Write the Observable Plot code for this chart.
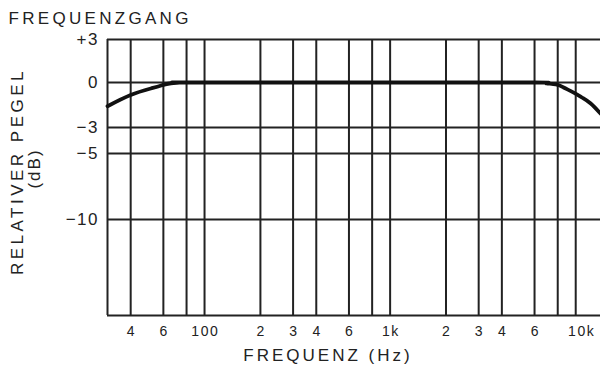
<!DOCTYPE html>
<html>
<head>
<meta charset="utf-8">
<script src="https://cdn.jsdelivr.net/npm/d3@7"></script>
<script src="https://cdn.jsdelivr.net/npm/@observablehq/plot@0.6"></script>
<style>
  html, body { margin: 0; padding: 0; background: #fff; }
  #chart svg { display: block; }
</style>
</head>
<body>
<div id="chart"></div>
<script>
// Grid / tick frequencies (Hz) and their printed labels
const gridFreqs = [40, 60, 80, 100, 200, 300, 400, 600, 800, 1000, 2000, 3000, 4000, 6000, 8000, 10000];
const tickLabels = ["4", "6", "", "100", "2", "3", "4", "6", "", "1k", "2", "3", "4", "6", "", "10k"];

// Level grid (dB) and printed labels
const levelGrid = [3, 0, -3, -5, -10, -17];
const levelTicks = [3, 0, -3, -5, -10];
const levelLabels = ["+3", "0", "−3", "−5", "−10"];

// Frequency response curve
const freq  = [30, 40, 52, 59, 66, 72, 90, 1000, 6000, 6900, 7800, 8600, 9750, 10800, 12050, 13600];
const level = [-1.58, -0.83, -0.38, -0.18, -0.05, 0, 0, 0, 0, -0.03, -0.13, -0.33, -0.67, -1.0, -1.4, -2.07];

const title = "FREQUENZGANG";
const xLabel = "FREQUENZ (Hz)";
const yLabel = "RELATIVER PEGEL";
const yUnit = "(dB)";

// The printed dB axis is not evenly spaced: calibrate it piecewise
const dbStops = [-17, -10, -5, -3, 0, 3];
const dbPos = [0, 96, 162, 188, 233, 276];
const dbAxis = d3.scaleLinear().domain(dbStops).range(dbPos);

const curve = freq.map((f, i) => ({f, db: level[i]}));
const ticks = gridFreqs.map((f, i) => ({f, label: tickLabels[i]}));
const ink = "#222";

const chart = Plot.plot({
  width: 600,
  height: 365,
  marginLeft: 107,
  marginRight: 0,
  marginTop: 39,
  marginBottom: 50,
  style: {fontFamily: "'Liberation Sans', Arial, sans-serif", background: "#fff", color: ink},
  x: {type: "log", domain: [30, 13600], axis: null},
  y: {transform: dbAxis, axis: null},
  marks: [
    Plot.ruleX(gridFreqs, {stroke: ink, strokeWidth: 2}),
    Plot.ruleX([30], {stroke: ink, strokeWidth: 2}),
    Plot.ruleY(levelGrid, {stroke: ink, strokeWidth: 2}),
    Plot.line(curve, {x: "f", y: "db", stroke: "#111", strokeWidth: 3.8, curve: "natural"}),
    Plot.text(ticks, {
      filter: d => d.label !== "10k",
      x: "f", text: "label", frameAnchor: "bottom",
      lineAnchor: "middle", textAnchor: "middle", dx: 0.8, dy: 16, fontSize: 14, fill: ink
    }),
    Plot.text(ticks, {
      filter: d => d.label === "10k",
      x: "f", text: "label", frameAnchor: "bottom",
      lineAnchor: "middle", textAnchor: "middle", dx: 6, dy: 16, fontSize: 14, fill: ink
    }),
    Plot.text(levelTicks, {
      y: d => d, text: (d, i) => levelLabels[i], frameAnchor: "left",
      lineAnchor: "middle", textAnchor: "end", dx: -8.5, fontSize: 17, fill: ink
    }),
    Plot.text([xLabel], {
      text: d => d, frameAnchor: "bottom", lineAnchor: "middle", textAnchor: "middle",
      dx: -26, dy: 40, fontSize: 17, fill: ink
    }),
    Plot.text([yLabel], {
      text: d => d, frameAnchor: "left", lineAnchor: "middle", textAnchor: "middle",
      dx: -90, dy: -6, rotate: -90, fontSize: 17, fill: ink
    }),
    Plot.text([yUnit], {
      text: d => d, frameAnchor: "left", lineAnchor: "middle", textAnchor: "middle",
      dx: -73, dy: -9, rotate: -90, fontSize: 17, fill: ink
    }),
    Plot.text([title], {
      text: d => d, frameAnchor: "top-left", lineAnchor: "middle", textAnchor: "start",
      dx: -99, dy: -21, fontSize: 17, fill: ink
    })
  ]
});

document.getElementById("chart").append(chart);

const spacing = new Map([[title, "3.3px"], [xLabel, "3px"], [yLabel, "3.5px"], [yUnit, "2px"]]);
d3.select(chart).selectAll("text").each(function() {
  const t = this.textContent;
  if (spacing.has(t)) this.style.letterSpacing = spacing.get(t);
  else if (levelLabels.includes(t)) this.style.letterSpacing = "1.5px";
  else if (tickLabels.includes(t)) this.style.letterSpacing = "1.6px";
});
</script>
</body>
</html>
